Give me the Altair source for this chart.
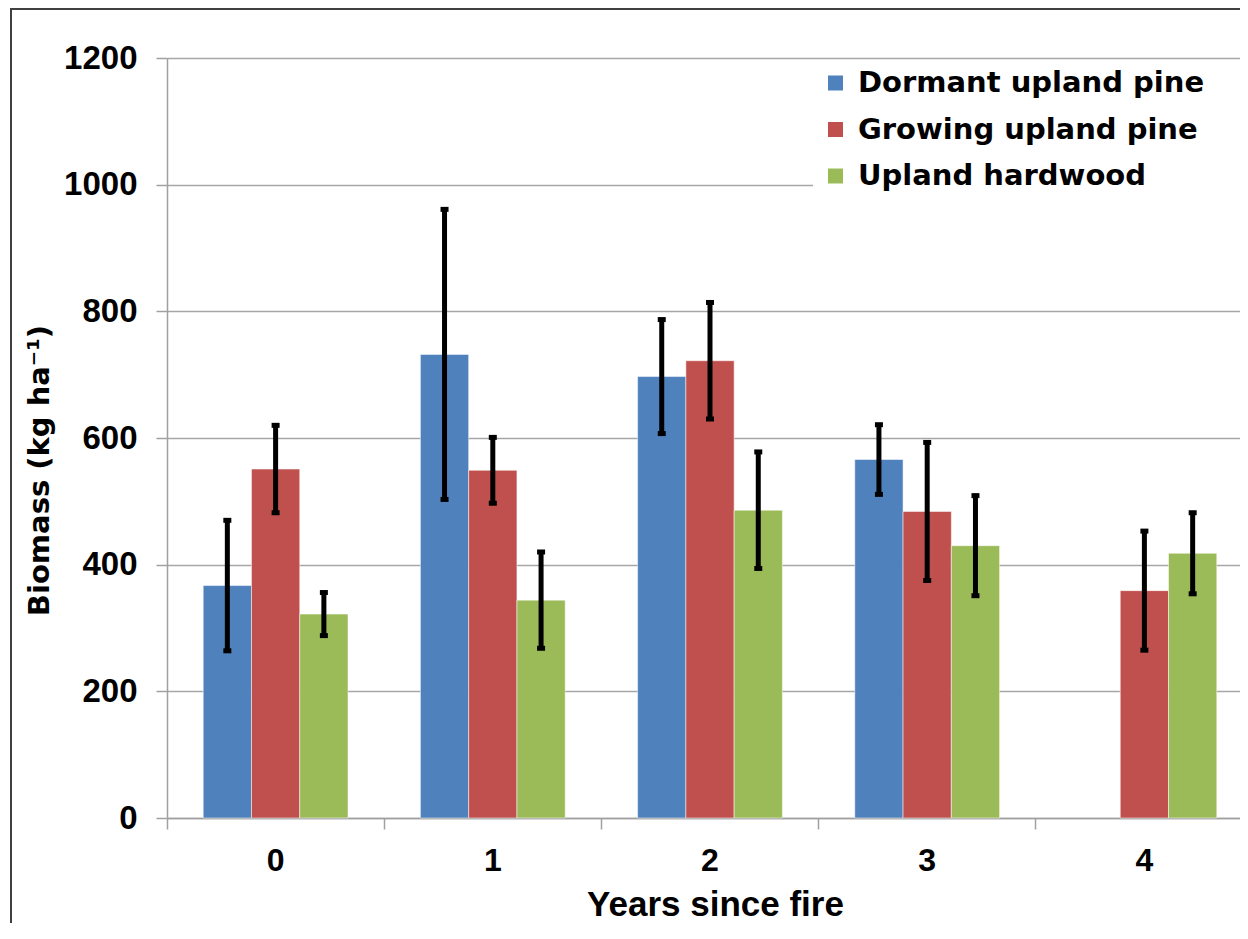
import altair as alt
import pandas as pd

years = ["0", "1", "2", "3", "4"]
series = ["Dormant upland pine", "Growing upland pine", "Upland hardwood"]
dormant = [367, 732, 697, 566, None]
dormant_err = [103, 229, 90, 55, None]
growing = [551, 549, 722, 484, 359]
growing_err = [69, 52, 92, 109, 94]
hardwood = [322, 344, 486, 430, 418]
hardwood_err = [34, 76, 92, 79, 64]
colors = ["#4F81BD", "#C0504D", "#9BBB59"]
y_ticks = [0, 200, 400, 600, 800, 1000, 1200]

rows = []
for name, vals, errs in zip(series, [dormant, growing, hardwood], [dormant_err, growing_err, hardwood_err]):
    for yr, v, e in zip(years, vals, errs):
        if v is None:
            continue
        rows.append({"year": yr, "series": name, "value": v, "lo": v - e, "hi": v + e})
df = pd.DataFrame(rows)

FONT = "Liberation Sans"
WIDE = "DejaVu Sans"

x_scale = alt.Scale(paddingInner=0.3333, paddingOuter=0.1667, range=[0, 1086])
x_enc = alt.X("year:N", sort=years, scale=x_scale,
              axis=alt.Axis(title="Years since fire", labelAngle=0, grid=False,
                            bandPosition=-0.25, labelOffset=0,
                            tickSize=11, labelPadding=16, labelFontSize=32,
                            titleX=548, titleY=97, titleAlign="center",
                            titleBaseline="alphabetic", titleFontSize=35))
xo_enc = alt.XOffset("series:N", sort=series, scale=alt.Scale(paddingInner=0, paddingOuter=0))
y_scale = alt.Scale(domain=[0, 1200], nice=False)

bars = alt.Chart(df).mark_bar(stroke="white", strokeWidth=1, strokeOpacity=0.5).encode(
    x=x_enc,
    xOffset=xo_enc,
    y=alt.Y("value:Q", scale=y_scale,
            axis=alt.Axis(title="Biomass (kg ha\u207b\u00b9)", values=y_ticks, format="d",
                          tickSize=11, labelPadding=19, labelFontSize=33,
                          titleX=-119, titleY=412, titleAngle=-90, titleFont=WIDE,
                          titleAlign="center", titleBaseline="alphabetic", titleFontSize=29)),
    color=alt.Color("series:N", sort=series, scale=alt.Scale(domain=series, range=colors),
                    legend=alt.Legend(title=None, orient="none", legendX=654, legendY=10.5,
                                      symbolType="square", symbolSize=225, symbolStrokeWidth=0,
                                      labelFontSize=29, labelFont=WIDE, labelFontWeight="bold",
                                      labelColor="black", labelOffset=8, rowPadding=16.5,
                                      padding=0, labelLimit=0)),
)

err = alt.Chart(df).mark_rule(color="black", strokeWidth=5).encode(
    x=alt.X("year:N", sort=years), xOffset=xo_enc,
    y=alt.Y("lo:Q", scale=y_scale), y2="hi:Q")
cap_lo = alt.Chart(df).mark_tick(color="black", thickness=5, size=8, opacity=1).encode(
    x=alt.X("year:N", sort=years), xOffset=xo_enc, y=alt.Y("lo:Q", scale=y_scale))
cap_hi = alt.Chart(df).mark_tick(color="black", thickness=5, size=8, opacity=1).encode(
    x=alt.X("year:N", sort=years), xOffset=xo_enc, y=alt.Y("hi:Q", scale=y_scale))

one = pd.DataFrame({"a": [0]})
legend_bg = alt.Chart(one).mark_rect(color="white").encode(
    x=alt.value(646), x2=alt.value(1100), y=alt.value(3), y2=alt.value(145))
border_left = alt.Chart(one).mark_rule(color="#404040", strokeWidth=2).encode(
    x=alt.value(-156), y=alt.value(-49), y2=alt.value(900))
border_top = alt.Chart(one).mark_rule(color="#404040", strokeWidth=2).encode(
    x=alt.value(-157), x2=alt.value(1100), y=alt.value(-49))

chart = alt.layer(legend_bg, bars, err, cap_lo, cap_hi, border_left, border_top).properties(
    width=1073, height=760,
    padding={"left": 159, "top": 50, "right": 0, "bottom": 105},
    autosize=alt.AutoSizeParams(type="none"),
    background="white",
).configure_view(stroke=None).configure_axis(
    labelFont=FONT, labelFontWeight="bold", labelColor="black",
    titleFont=FONT, titleFontWeight="bold", titleColor="black",
    domainColor="#A0A0A0", domainWidth=1.5, tickColor="#A0A0A0", tickWidth=1.5,
    gridColor="#A6A6A6", gridWidth=1.5,
)

chart.save("out.html", embed_options={"renderer": "svg", "actions": False})
